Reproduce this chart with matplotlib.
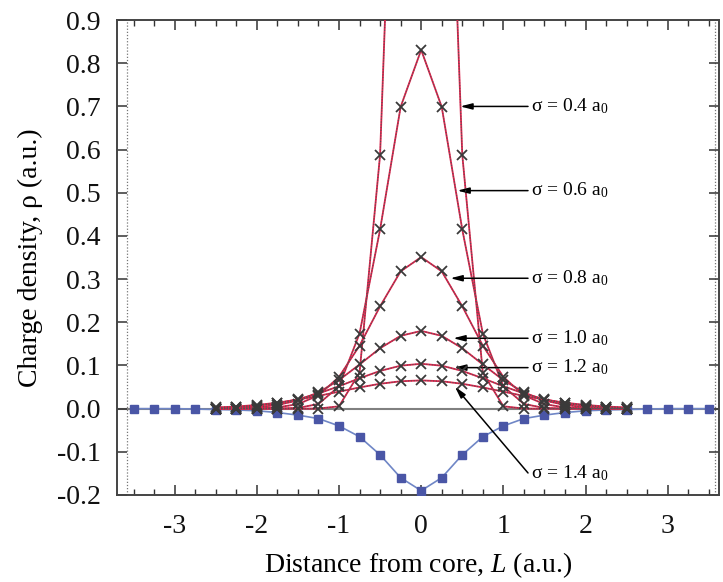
import matplotlib
matplotlib.use("Agg")
import matplotlib.pyplot as plt
from matplotlib.ticker import MultipleLocator

plt.rcParams['font.family'] = ['Liberation Serif', 'DejaVu Serif']
plt.rcParams['mathtext.fontset'] = 'custom'
plt.rcParams['mathtext.rm'] = 'Liberation Serif'
plt.rcParams['mathtext.it'] = 'Liberation Serif:italic'
plt.rcParams['axes.unicode_minus'] = False

# ---------------- data ----------------
x_sigma = [-2.5, -2.25, -2.0, -1.75, -1.5, -1.25, -1.0, -0.75, -0.5, -0.25, 0.0,
           0.25, 0.5, 0.75, 1.0, 1.25, 1.5, 1.75, 2.0, 2.25, 2.5]
rho_04 = [0, 0, 0, 0, 0, 0.0002, 0.0054, 0.0834, 0.588, 1.899, 2.806,
          1.899, 0.588, 0.0834, 0.0054, 0.0002, 0, 0, 0, 0, 0]
rho_06 = [0, 0, 0, 0.0002, 0.0016, 0.0108, 0.0517, 0.174, 0.415, 0.699, 0.831,
          0.699, 0.415, 0.174, 0.0517, 0.0108, 0.0016, 0.0002, 0, 0, 0]
rho_08 = [0, 0.0001, 0.0007, 0.0029, 0.0104, 0.0305, 0.0735, 0.146, 0.237, 0.318, 0.351,
          0.318, 0.237, 0.146, 0.0735, 0.0305, 0.0104, 0.0029, 0.0007, 0.0001, 0]
rho_10 = [0.0003, 0.0011, 0.0033, 0.0084, 0.0189, 0.0376, 0.0661, 0.1023, 0.1399, 0.1687, 0.180,
          0.1687, 0.1399, 0.1023, 0.0661, 0.0376, 0.0189, 0.0084, 0.0033, 0.0011, 0.0003]
rho_12 = [0.0014, 0.0031, 0.0065, 0.0124, 0.0218, 0.0351, 0.0519, 0.0703, 0.0874, 0.0995, 0.1039,
          0.0995, 0.0874, 0.0703, 0.0519, 0.0351, 0.0218, 0.0124, 0.0065, 0.0031, 0.0014]
rho_14 = [0.0027, 0.0049, 0.0085, 0.0137, 0.0208, 0.0295, 0.0393, 0.0491, 0.0576, 0.0634, 0.0654,
          0.0634, 0.0576, 0.0491, 0.0393, 0.0295, 0.0208, 0.0137, 0.0085, 0.0049, 0.0027]

x_core = [-3.5, -3.25, -3.0, -2.75, -2.5, -2.25, -2.0, -1.75, -1.5, -1.25, -1.0, -0.75, -0.5, -0.25, 0.0,
          0.25, 0.5, 0.75, 1.0, 1.25, 1.5, 1.75, 2.0, 2.25, 2.5, 2.75, 3.0, 3.25, 3.5]
rho_core = [0, 0, 0, -0.001, -0.002, -0.003, -0.005, -0.009, -0.015, -0.023, -0.040, -0.065, -0.107, -0.160, -0.190,
            -0.160, -0.107, -0.065, -0.040, -0.023, -0.015, -0.009, -0.005, -0.003, -0.002, -0.001, 0, 0, 0]

labels = [r'σ = 0.4 a$_0$', r'σ = 0.6 a$_0$', r'σ = 0.8 a$_0$',
          r'σ = 1.0 a$_0$', r'σ = 1.2 a$_0$', r'σ = 1.4 a$_0$']
label_y = [0.70, 0.505, 0.302, 0.163, 0.095, -0.149]
arrow_head = [(0.475, 0.70), (0.44, 0.505), (0.355, 0.302),
              (0.39, 0.163), (0.40, 0.095), (0.41, 0.051)]

# ---------------- figure ----------------
fig = plt.figure(figsize=(7.23, 5.82), dpi=100)
ax = fig.add_axes([0.162, 0.1495, 0.832, 0.816])

ax.axhline(0, color='#808080', lw=1.5, zorder=1)
for xv in (-3.58, 3.57):
    ax.axvline(xv, color='#777777', lw=0.9, ls=(0, (1, 1.5)), zorder=1)

ax.plot(x_core, rho_core, color='#6f86c6', lw=1.2, zorder=2)
ax.plot(x_core, rho_core, ls='none', marker='s', ms=5.5, color='#4a56a6', zorder=3)

for rho in (rho_04, rho_06, rho_08, rho_10, rho_12, rho_14):
    ax.plot(x_sigma, rho, color='#e0204a', lw=1.3, zorder=3)
    ax.plot(x_sigma, rho, color='#555555', lw=0.8, ls=(0, (1, 1.5)), zorder=4)
    ax.plot(x_sigma, rho, ls='none', marker='x', ms=6.5, mew=1.3, color='#3a3a3a', zorder=5)

for lab, ly, head in zip(labels, label_y, arrow_head):
    ax.text(1.34, ly, lab, fontsize=14, va='center', ha='left')
    ax.annotate('', xy=head, xytext=(1.30, ly),
                arrowprops=dict(arrowstyle='-|>,head_length=0.7,head_width=0.18',
                                color='black', lw=1.1, shrinkA=0, shrinkB=0))

ax.set_xlim(-3.7, 3.62)
ax.set_ylim(-0.2, 0.9)
ax.xaxis.set_major_locator(MultipleLocator(1))
ax.xaxis.set_minor_locator(MultipleLocator(0.25))
ax.yaxis.set_major_locator(MultipleLocator(0.1))
ax.yaxis.set_major_formatter(matplotlib.ticker.FormatStrFormatter('%.1f'))
ax.tick_params(which='both', direction='in', top=True, right=True, colors='#333333',
               labelcolor='#111111', labelsize=20)
ax.tick_params(which='major', length=7, width=1.1)
ax.tick_params(which='minor', length=4, width=1.0)
ax.tick_params(axis='x', pad=14)
ax.tick_params(axis='y', pad=12)
for sp in ax.spines.values():
    sp.set_color('#444444')
    sp.set_linewidth(1.4)

ax.set_xlabel(r'Distance from core, $\it{L}$ (a.u.)', fontsize=20, labelpad=8)
ax.set_ylabel('Charge density, ρ (a.u.)', fontsize=20, labelpad=10)

fig.savefig('out.png', dpi=100)
